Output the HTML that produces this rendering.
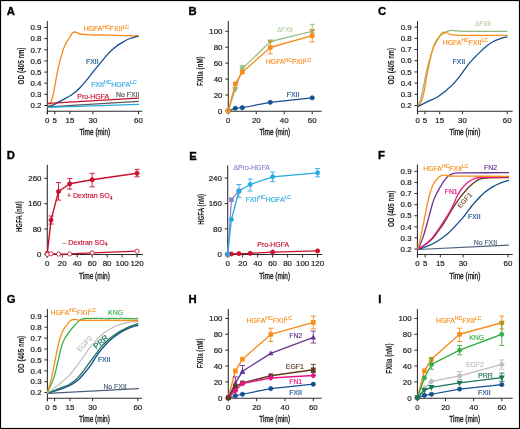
<!DOCTYPE html>
<html><head><meta charset="utf-8"><style>
html,body{margin:0;padding:0;background:#fff;}
body{width:520px;height:429px;overflow:hidden;}
svg{display:block;will-change:transform;font-family:"Liberation Sans", sans-serif;}
</style></head><body>
<svg width="520" height="429" viewBox="0 0 520 429">
<rect x="0" y="0" width="520" height="429" fill="#fff"/>
<rect x="0.5" y="0.5" width="519" height="428" fill="none" stroke="#000" stroke-width="1.2"/>
<text x="6.8" y="15" font-size="11.3" fill="#000" font-weight="bold" stroke="#000" stroke-width="0.35">A</text>
<path d="M47.3,21 V114.2 M47.3,111.2 H142.3" stroke="#2b2b2b" stroke-width="1.05" fill="none"/>
<path d="M44.3,105.5 H47.3 M44.3,94.35 H47.3 M44.3,83.2 H47.3 M44.3,72.05 H47.3 M44.3,60.9 H47.3 M44.3,49.75 H47.3 M44.3,38.6 H47.3 M44.3,27.45 H47.3 M47.3,111.2 V114.2 M54.8,111.2 V114.2 M69.9,111.2 V114.2 M92.9,111.2 V114.2 M138.5,111.2 V114.2 " stroke="#2b2b2b" stroke-width="1" fill="none"/>
<text x="41.5" y="108.25" font-size="7.9" fill="#231f20" text-anchor="end" stroke="#231f20" stroke-width="0.22">0.2</text>
<text x="41.5" y="97.1" font-size="7.9" fill="#231f20" text-anchor="end" stroke="#231f20" stroke-width="0.22">0.3</text>
<text x="41.5" y="85.95" font-size="7.9" fill="#231f20" text-anchor="end" stroke="#231f20" stroke-width="0.22">0.4</text>
<text x="41.5" y="74.8" font-size="7.9" fill="#231f20" text-anchor="end" stroke="#231f20" stroke-width="0.22">0.5</text>
<text x="41.5" y="63.65" font-size="7.9" fill="#231f20" text-anchor="end" stroke="#231f20" stroke-width="0.22">0.6</text>
<text x="41.5" y="52.5" font-size="7.9" fill="#231f20" text-anchor="end" stroke="#231f20" stroke-width="0.22">0.7</text>
<text x="41.5" y="41.35" font-size="7.9" fill="#231f20" text-anchor="end" stroke="#231f20" stroke-width="0.22">0.8</text>
<text x="41.5" y="30.2" font-size="7.9" fill="#231f20" text-anchor="end" stroke="#231f20" stroke-width="0.22">0.9</text>
<text x="47.3" y="122.7" font-size="7.9" fill="#231f20" text-anchor="middle" stroke="#231f20" stroke-width="0.22">0</text>
<text x="54.8" y="122.7" font-size="7.9" fill="#231f20" text-anchor="middle" stroke="#231f20" stroke-width="0.22">5</text>
<text x="69.9" y="122.7" font-size="7.9" fill="#231f20" text-anchor="middle" stroke="#231f20" stroke-width="0.22">15</text>
<text x="92.9" y="122.7" font-size="7.9" fill="#231f20" text-anchor="middle" stroke="#231f20" stroke-width="0.22">30</text>
<text x="138.5" y="122.7" font-size="7.9" fill="#231f20" text-anchor="middle" stroke="#231f20" stroke-width="0.22">60</text>
<text x="20.6" y="69.2" font-size="8.9" fill="#231f20" text-anchor="middle" transform="rotate(-90 20.6 66)" font-weight="bold" stroke="#231f20" stroke-width="0.05" textLength="37" lengthAdjust="spacingAndGlyphs">OD (405 <tspan font-size="8.2">nm</tspan>)</text>
<text x="94.8" y="134.6" font-size="8.8" fill="#231f20" text-anchor="middle" textLength="30.8" lengthAdjust="spacingAndGlyphs" stroke="#231f20" stroke-width="0.38">Time (min)</text>
<path d="M47.9,106.7 C48.43,105.85 50.18,103.8 51.1,101.6 C52.02,99.4 52.65,96.8 53.4,93.5 C54.15,90.2 54.87,85.72 55.6,81.8 C56.33,77.88 56.95,73.93 57.8,70 C58.65,66.07 59.73,61.78 60.7,58.2 C61.67,54.62 62.53,51.32 63.6,48.5 C64.67,45.68 66.02,43.27 67.1,41.3 C68.18,39.33 69.22,38.08 70.1,36.7 C70.98,35.32 71.63,33.78 72.4,33 C73.17,32.22 73.83,32.02 74.7,32 C75.57,31.98 76.72,32.57 77.6,32.9 C78.48,33.23 78.63,33.73 80,34 C81.37,34.27 83.3,34.33 85.8,34.5 C88.3,34.67 90.13,34.87 95,35 C99.87,35.13 107.82,35.13 115,35.3 C122.18,35.47 134.25,35.88 138.1,36" fill="none" stroke="#f98c1a" stroke-width="1.3" stroke-linejoin="round" stroke-linecap="round"/>
<path d="M47.9,106.9 C49.05,106.45 52.67,105.2 54.8,104.2 C56.93,103.2 58.77,101.95 60.7,100.9 C62.63,99.85 64.38,99.05 66.4,97.9 C68.42,96.75 70.67,95.57 72.8,94 C74.93,92.43 77.07,90.6 79.2,88.5 C81.33,86.4 83.45,83.97 85.6,81.4 C87.75,78.83 90.45,75.18 92.1,73.1 C93.75,71.02 94.05,70.65 95.5,68.9 C96.95,67.15 98.93,64.85 100.8,62.6 C102.67,60.35 104.75,57.57 106.7,55.4 C108.65,53.23 110.57,51.35 112.5,49.6 C114.43,47.85 116.37,46.27 118.3,44.9 C120.23,43.53 122.15,42.47 124.1,41.4 C126.05,40.33 127.67,39.38 130,38.5 C132.33,37.62 136.75,36.5 138.1,36.1" fill="none" stroke="#145090" stroke-width="1.3" stroke-linejoin="round" stroke-linecap="round"/>
<path d="M47.8,103.3 L138.5,98.1" fill="none" stroke="#c8102e" stroke-width="1.3" stroke-linejoin="round" stroke-linecap="round"/>
<path d="M47.8,106.9 L138.5,101.3" fill="none" stroke="#5a5a5a" stroke-width="1.2" stroke-linejoin="round" stroke-linecap="round"/>
<path d="M47.8,107.4 L138.5,104.4" fill="none" stroke="#29a9e0" stroke-width="1.4" stroke-linejoin="round" stroke-linecap="round"/>
<text x="83.7" y="31.2" font-size="6.9" fill="#f98c1a" stroke="#f98c1a" stroke-width="0.16"><tspan>HGFA</tspan><tspan font-size="5.11" dy="-2.69">HC</tspan><tspan dy="2.69">FXII</tspan><tspan font-size="5.11" dy="-2.69">LC</tspan></text>
<text x="86" y="64.2" font-size="6.9" fill="#145090" stroke="#145090" stroke-width="0.16">FXII</text>
<text x="91.3" y="86.9" font-size="6.9" fill="#29a9e0" stroke="#29a9e0" stroke-width="0.16"><tspan>FXII</tspan><tspan font-size="5.11" dy="-2.69">HC</tspan><tspan dy="2.69">HGFA</tspan><tspan font-size="5.11" dy="-2.69">LC</tspan></text>
<text x="77.3" y="98.7" font-size="6.9" fill="#c8102e" stroke="#c8102e" stroke-width="0.16">Pro-HGFA</text>
<text x="116" y="96.8" font-size="6.9" fill="#4a4a4a" stroke="#4a4a4a" stroke-width="0.16">No FXII</text>
<text x="188.5" y="15" font-size="11.3" fill="#000" font-weight="bold" stroke="#000" stroke-width="0.35">B</text>
<path d="M228.3,21.1 V114.2 M228.3,111.2 H321.7" stroke="#2b2b2b" stroke-width="1.05" fill="none"/>
<path d="M225.3,110.9 H228.3 M225.3,94.98 H228.3 M225.3,79.06 H228.3 M225.3,63.14 H228.3 M225.3,47.22 H228.3 M225.3,31.3 H228.3 M228.3,111.2 V114.2 M256.27,111.2 V114.2 M284.23,111.2 V114.2 M312.2,111.2 V114.2 " stroke="#2b2b2b" stroke-width="1" fill="none"/>
<text x="222.5" y="113.65" font-size="7.9" fill="#231f20" text-anchor="end" stroke="#231f20" stroke-width="0.22">0</text>
<text x="222.5" y="97.73" font-size="7.9" fill="#231f20" text-anchor="end" stroke="#231f20" stroke-width="0.22">20</text>
<text x="222.5" y="81.81" font-size="7.9" fill="#231f20" text-anchor="end" stroke="#231f20" stroke-width="0.22">40</text>
<text x="222.5" y="65.89" font-size="7.9" fill="#231f20" text-anchor="end" stroke="#231f20" stroke-width="0.22">60</text>
<text x="222.5" y="49.97" font-size="7.9" fill="#231f20" text-anchor="end" stroke="#231f20" stroke-width="0.22">80</text>
<text x="222.5" y="34.05" font-size="7.9" fill="#231f20" text-anchor="end" stroke="#231f20" stroke-width="0.22">100</text>
<text x="228.3" y="122.7" font-size="7.9" fill="#231f20" text-anchor="middle" stroke="#231f20" stroke-width="0.22">0</text>
<text x="256.27" y="122.7" font-size="7.9" fill="#231f20" text-anchor="middle" stroke="#231f20" stroke-width="0.22">20</text>
<text x="284.23" y="122.7" font-size="7.9" fill="#231f20" text-anchor="middle" stroke="#231f20" stroke-width="0.22">40</text>
<text x="312.2" y="122.7" font-size="7.9" fill="#231f20" text-anchor="middle" stroke="#231f20" stroke-width="0.22">60</text>
<text x="199.8" y="74.37" font-size="8.8" fill="#231f20" text-anchor="middle" textLength="29.8" lengthAdjust="spacingAndGlyphs" transform="rotate(-90 199.8 71.2)" font-weight="bold" stroke="#231f20" stroke-width="0.05">FXIIa (nM)</text>
<text x="274.8" y="134.6" font-size="8.8" fill="#231f20" text-anchor="middle" textLength="30.8" lengthAdjust="spacingAndGlyphs" stroke="#231f20" stroke-width="0.38">Time (min)</text>
<path d="M228.3,110.9 L235.29,108.27 L242.28,107.72 L270.25,102.3 L312.2,97.85" fill="none" stroke="#145090" stroke-width="1.2" stroke-linejoin="round" stroke-linecap="round"/>
<circle cx="228.3" cy="110.9" r="2.1" fill="#145090" stroke="#145090" stroke-width="0.8"/>
<circle cx="235.29" cy="108.27" r="2.1" fill="#145090" stroke="#145090" stroke-width="0.8"/>
<circle cx="242.28" cy="107.72" r="2.1" fill="#145090" stroke="#145090" stroke-width="0.8"/>
<circle cx="270.25" cy="102.3" r="2.1" fill="#145090" stroke="#145090" stroke-width="0.8"/>
<circle cx="312.2" cy="97.85" r="2.1" fill="#145090" stroke="#145090" stroke-width="0.8"/>
<path d="M228.3,110.9 L235.29,89.41 L242.28,68.71 L270.25,41.65 L312.2,31.3" fill="none" stroke="#8fb77a" stroke-width="1.1" stroke-linejoin="round" stroke-linecap="round"/>
<path d="M242.28,65.5 V69.8 M239.68,65.5 H244.88 M239.68,69.8 H244.88" stroke="#8fb77a" stroke-width="0.9" fill="none"/>
<path d="M312.2,24.3 V32.9 M309.6,24.3 H314.8 M309.6,32.9 H314.8" stroke="#8fb77a" stroke-width="0.9" fill="none"/>
<path d="M228.3,114.14 L231.3,108.74 L225.3,108.74 Z" fill="#8fb77a"/>
<path d="M235.29,92.65 L238.29,87.25 L232.29,87.25 Z" fill="#8fb77a"/>
<path d="M242.28,71.95 L245.28,66.55 L239.28,66.55 Z" fill="#8fb77a"/>
<path d="M270.25,44.89 L273.25,39.49 L267.25,39.49 Z" fill="#8fb77a"/>
<path d="M312.2,34.54 L315.2,29.14 L309.2,29.14 Z" fill="#8fb77a"/>
<path d="M228.3,110.9 L235.29,83.84 L242.28,72.21 L270.25,47.54 L312.2,35.68" fill="none" stroke="#f98c1a" stroke-width="1.4" stroke-linejoin="round" stroke-linecap="round"/>
<path d="M270.25,41.5 V53.9 M267.65,41.5 H272.85 M267.65,53.9 H272.85" stroke="#f98c1a" stroke-width="0.9" fill="none"/>
<path d="M312.2,29.5 V41.9 M309.6,29.5 H314.8 M309.6,41.9 H314.8" stroke="#f98c1a" stroke-width="0.9" fill="none"/>
<rect x="226" y="108.6" width="4.6" height="4.6" fill="#f98c1a"/>
<rect x="232.99" y="81.54" width="4.6" height="4.6" fill="#f98c1a"/>
<rect x="239.98" y="69.91" width="4.6" height="4.6" fill="#f98c1a"/>
<rect x="267.95" y="45.24" width="4.6" height="4.6" fill="#f98c1a"/>
<rect x="309.9" y="33.38" width="4.6" height="4.6" fill="#f98c1a"/>
<text x="277.2" y="32.3" font-size="6.9" fill="#a3c28f" textLength="15.6" lengthAdjust="spacingAndGlyphs" stroke-width="0" stroke="none">&#916;FXII</text>
<text x="265.8" y="64.4" font-size="6.9" fill="#f98c1a" stroke="#f98c1a" stroke-width="0.16"><tspan>HGFA</tspan><tspan font-size="5.11" dy="-2.69">HC</tspan><tspan dy="2.69">FXII</tspan><tspan font-size="5.11" dy="-2.69">LC</tspan></text>
<text x="286.8" y="97.3" font-size="6.9" fill="#145090" stroke="#145090" stroke-width="0.16">FXII</text>
<text x="378" y="15" font-size="11.3" fill="#000" font-weight="bold" stroke="#000" stroke-width="0.35">C</text>
<path d="M417.5,21 V114.2 M417.5,111.2 H512.7" stroke="#2b2b2b" stroke-width="1.05" fill="none"/>
<path d="M414.5,105.5 H417.5 M414.5,94.31 H417.5 M414.5,83.12 H417.5 M414.5,71.93 H417.5 M414.5,60.74 H417.5 M414.5,49.55 H417.5 M414.5,38.36 H417.5 M414.5,27.17 H417.5 M417.6,111.2 V114.2 M424.9,111.2 V114.2 M439.7,111.2 V114.2 M462.5,111.2 V114.2 M507.2,111.2 V114.2 " stroke="#2b2b2b" stroke-width="1" fill="none"/>
<text x="411.7" y="108.25" font-size="7.9" fill="#231f20" text-anchor="end" stroke="#231f20" stroke-width="0.22">0.2</text>
<text x="411.7" y="97.06" font-size="7.9" fill="#231f20" text-anchor="end" stroke="#231f20" stroke-width="0.22">0.3</text>
<text x="411.7" y="85.87" font-size="7.9" fill="#231f20" text-anchor="end" stroke="#231f20" stroke-width="0.22">0.4</text>
<text x="411.7" y="74.68" font-size="7.9" fill="#231f20" text-anchor="end" stroke="#231f20" stroke-width="0.22">0.5</text>
<text x="411.7" y="63.49" font-size="7.9" fill="#231f20" text-anchor="end" stroke="#231f20" stroke-width="0.22">0.6</text>
<text x="411.7" y="52.3" font-size="7.9" fill="#231f20" text-anchor="end" stroke="#231f20" stroke-width="0.22">0.7</text>
<text x="411.7" y="41.11" font-size="7.9" fill="#231f20" text-anchor="end" stroke="#231f20" stroke-width="0.22">0.8</text>
<text x="411.7" y="29.92" font-size="7.9" fill="#231f20" text-anchor="end" stroke="#231f20" stroke-width="0.22">0.9</text>
<text x="417.6" y="122.7" font-size="7.9" fill="#231f20" text-anchor="middle" stroke="#231f20" stroke-width="0.22">0</text>
<text x="424.9" y="122.7" font-size="7.9" fill="#231f20" text-anchor="middle" stroke="#231f20" stroke-width="0.22">5</text>
<text x="439.7" y="122.7" font-size="7.9" fill="#231f20" text-anchor="middle" stroke="#231f20" stroke-width="0.22">15</text>
<text x="462.5" y="122.7" font-size="7.9" fill="#231f20" text-anchor="middle" stroke="#231f20" stroke-width="0.22">30</text>
<text x="507.2" y="122.7" font-size="7.9" fill="#231f20" text-anchor="middle" stroke="#231f20" stroke-width="0.22">60</text>
<text x="390.9" y="69.4" font-size="8.9" fill="#231f20" text-anchor="middle" transform="rotate(-90 390.9 66.2)" font-weight="bold" stroke="#231f20" stroke-width="0.05" textLength="36.8" lengthAdjust="spacingAndGlyphs">OD (405 <tspan font-size="8.2">nm</tspan>)</text>
<text x="464.9" y="134.6" font-size="8.8" fill="#231f20" text-anchor="middle" textLength="30.8" lengthAdjust="spacingAndGlyphs" stroke="#231f20" stroke-width="0.38">Time (min)</text>
<path d="M418.1,105.6 C418.45,104.77 419.5,102.82 420.2,100.6 C420.9,98.38 421.6,95.43 422.3,92.3 C423,89.17 423.7,85.3 424.4,81.8 C425.1,78.3 425.87,74.18 426.5,71.3 C427.13,68.42 427.42,67.37 428.2,64.5 C428.98,61.63 430.13,57.58 431.2,54.1 C432.27,50.62 433.25,46.5 434.6,43.6 C435.95,40.7 437.73,38.4 439.3,36.7 C440.87,35 442.63,34.28 444,33.4 C445.37,32.52 446.15,31.9 447.5,31.4 C448.85,30.9 450.55,30.5 452.1,30.4 C453.65,30.3 454.48,30.65 456.8,30.8 C459.12,30.95 457.62,31.22 466,31.3 C474.38,31.38 500.25,31.3 507.1,31.3" fill="none" stroke="#8fb77a" stroke-width="1.2" stroke-linejoin="round" stroke-linecap="round"/>
<path d="M418.1,105.9 C418.62,105.2 420.33,103.45 421.2,101.7 C422.07,99.95 422.6,98.37 423.3,95.4 C424,92.43 424.7,87.75 425.4,83.9 C426.1,80.05 426.92,75.37 427.5,72.3 C428.08,69.23 428.28,68.33 428.9,65.5 C429.52,62.67 430.43,58.37 431.2,55.3 C431.97,52.23 432.53,49.52 433.5,47.1 C434.47,44.68 436.03,42.53 437,40.8 C437.97,39.07 438.53,37.93 439.3,36.7 C440.07,35.47 440.82,34.15 441.6,33.4 C442.38,32.65 443.02,32.23 444,32.2 C444.98,32.17 446.33,32.8 447.5,33.2 C448.67,33.6 449.45,34.27 451,34.6 C452.55,34.93 454.3,35.07 456.8,35.2 C459.3,35.33 457.62,35.38 466,35.4 C474.38,35.42 500.25,35.32 507.1,35.3" fill="none" stroke="#f98c1a" stroke-width="1.3" stroke-linejoin="round" stroke-linecap="round"/>
<path d="M418.1,106.4 C419.5,105.7 423.35,103.73 426.5,102.2 C429.65,100.67 434.38,98.65 437,97.2 C439.62,95.75 440.47,94.8 442.2,93.5 C443.93,92.2 445.65,90.88 447.4,89.4 C449.15,87.92 450.95,86.4 452.7,84.6 C454.45,82.8 456.25,80.63 457.9,78.6 C459.55,76.57 460.88,74.73 462.6,72.4 C464.32,70.07 466.25,67.03 468.2,64.6 C470.15,62.17 472.25,59.97 474.3,57.8 C476.35,55.63 478.43,53.55 480.5,51.6 C482.57,49.65 484.63,47.73 486.7,46.1 C488.77,44.47 490.85,42.97 492.9,41.8 C494.95,40.63 496.63,39.93 499,39.1 C501.37,38.27 505.75,37.18 507.1,36.8" fill="none" stroke="#145090" stroke-width="1.3" stroke-linejoin="round" stroke-linecap="round"/>
<text x="475.2" y="26.3" font-size="6.9" fill="#a3c28f" textLength="15.6" lengthAdjust="spacingAndGlyphs" stroke-width="0" stroke="none">&#916;FXII</text>
<text x="442.7" y="44.8" font-size="6.9" fill="#f98c1a" stroke="#f98c1a" stroke-width="0.16"><tspan>HGFA</tspan><tspan font-size="5.11" dy="-2.69">HC</tspan><tspan dy="2.69">FXII</tspan><tspan font-size="5.11" dy="-2.69">LC</tspan></text>
<text x="452.6" y="64.2" font-size="6.9" fill="#145090" stroke="#145090" stroke-width="0.16">FXII</text>
<text x="6.8" y="159.2" font-size="11.3" fill="#000" font-weight="bold" stroke="#000" stroke-width="0.35">D</text>
<path d="M47.3,164.7 V257.5 M47.3,254.5 H143" stroke="#2b2b2b" stroke-width="1.05" fill="none"/>
<path d="M44.3,254.4 H47.3 M44.3,229 H47.3 M44.3,203.7 H47.3 M44.3,178.3 H47.3 M47.3,254.5 V257.5 M62.26,254.5 V257.5 M77.22,254.5 V257.5 M92.18,254.5 V257.5 M107.14,254.5 V257.5 M122.1,254.5 V257.5 M137.06,254.5 V257.5 " stroke="#2b2b2b" stroke-width="1" fill="none"/>
<text x="41.5" y="257.15" font-size="7.9" fill="#231f20" text-anchor="end" stroke="#231f20" stroke-width="0.22">0</text>
<text x="41.5" y="231.75" font-size="7.9" fill="#231f20" text-anchor="end" stroke="#231f20" stroke-width="0.22">80</text>
<text x="41.5" y="206.45" font-size="7.9" fill="#231f20" text-anchor="end" stroke="#231f20" stroke-width="0.22">160</text>
<text x="41.5" y="181.05" font-size="7.9" fill="#231f20" text-anchor="end" stroke="#231f20" stroke-width="0.22">260</text>
<text x="47.3" y="266" font-size="7.9" fill="#231f20" text-anchor="middle" stroke="#231f20" stroke-width="0.22">0</text>
<text x="62.26" y="266" font-size="7.9" fill="#231f20" text-anchor="middle" stroke="#231f20" stroke-width="0.22">20</text>
<text x="77.22" y="266" font-size="7.9" fill="#231f20" text-anchor="middle" stroke="#231f20" stroke-width="0.22">40</text>
<text x="92.18" y="266" font-size="7.9" fill="#231f20" text-anchor="middle" stroke="#231f20" stroke-width="0.22">60</text>
<text x="107.14" y="266" font-size="7.9" fill="#231f20" text-anchor="middle" stroke="#231f20" stroke-width="0.22">80</text>
<text x="122.1" y="266" font-size="7.9" fill="#231f20" text-anchor="middle" stroke="#231f20" stroke-width="0.22">100</text>
<text x="137.06" y="266" font-size="7.9" fill="#231f20" text-anchor="middle" stroke="#231f20" stroke-width="0.22">120</text>
<text x="18.5" y="219.87" font-size="8.8" fill="#231f20" text-anchor="middle" textLength="30.8" lengthAdjust="spacingAndGlyphs" transform="rotate(-90 18.5 216.7)" font-weight="bold" stroke="#231f20" stroke-width="0.05">HGFA (nM)</text>
<text x="94.5" y="278.6" font-size="8.8" fill="#231f20" text-anchor="middle" textLength="30.8" lengthAdjust="spacingAndGlyphs" stroke="#231f20" stroke-width="0.38">Time (min)</text>
<path d="M47.3,253.45 L51.04,220.1 L58.52,191.5 L69.74,183.8 L92.18,179.8 L137.06,173.3" fill="none" stroke="#c8102e" stroke-width="1.4" stroke-linejoin="round" stroke-linecap="round"/>
<path d="M51.04,216 V224 M48.44,216 H53.64 M48.44,224 H53.64" stroke="#c8102e" stroke-width="0.9" fill="none"/>
<path d="M58.52,182.6 V200.1 M55.92,182.6 H61.12 M55.92,200.1 H61.12" stroke="#c8102e" stroke-width="0.9" fill="none"/>
<path d="M69.74,178.6 V189.1 M67.14,178.6 H72.34 M67.14,189.1 H72.34" stroke="#c8102e" stroke-width="0.9" fill="none"/>
<path d="M92.18,173.3 V186.8 M89.58,173.3 H94.78 M89.58,186.8 H94.78" stroke="#c8102e" stroke-width="0.9" fill="none"/>
<path d="M137.06,169.3 V176.8 M134.46,169.3 H139.66 M134.46,176.8 H139.66" stroke="#c8102e" stroke-width="0.9" fill="none"/>
<circle cx="47.3" cy="253.45" r="2.1" fill="#c8102e" stroke="#c8102e" stroke-width="0.8"/>
<circle cx="51.04" cy="220.1" r="2.1" fill="#c8102e" stroke="#c8102e" stroke-width="0.8"/>
<circle cx="58.52" cy="191.5" r="2.1" fill="#c8102e" stroke="#c8102e" stroke-width="0.8"/>
<circle cx="69.74" cy="183.8" r="2.1" fill="#c8102e" stroke="#c8102e" stroke-width="0.8"/>
<circle cx="92.18" cy="179.8" r="2.1" fill="#c8102e" stroke="#c8102e" stroke-width="0.8"/>
<circle cx="137.06" cy="173.3" r="2.1" fill="#c8102e" stroke="#c8102e" stroke-width="0.8"/>
<path d="M47.3,254.4 L51.04,253.77 L58.52,254.08 L69.74,253.92 L92.18,252.81 L137.06,251.22" fill="none" stroke="#c8102e" stroke-width="1.3" stroke-linejoin="round" stroke-linecap="round"/>
<circle cx="47.3" cy="254.4" r="2.1" fill="#fff" stroke="#c8102e" stroke-width="0.8"/>
<circle cx="51.04" cy="253.77" r="2.1" fill="#fff" stroke="#c8102e" stroke-width="0.8"/>
<circle cx="58.52" cy="254.08" r="2.1" fill="#fff" stroke="#c8102e" stroke-width="0.8"/>
<circle cx="69.74" cy="253.92" r="2.1" fill="#fff" stroke="#c8102e" stroke-width="0.8"/>
<circle cx="92.18" cy="252.81" r="2.1" fill="#fff" stroke="#c8102e" stroke-width="0.8"/>
<circle cx="137.06" cy="251.22" r="2.1" fill="#fff" stroke="#c8102e" stroke-width="0.8"/>
<text x="67" y="197.9" font-size="7.3" fill="#c8102e" stroke="#c8102e" stroke-width="0.16" textLength="45.6" lengthAdjust="spacingAndGlyphs">+ Dextran SO<tspan font-size="5.4" dy="1.9">4</tspan></text>
<text x="62.4" y="244.5" font-size="7.3" fill="#c8102e" stroke="#c8102e" stroke-width="0.16" textLength="45.2" lengthAdjust="spacingAndGlyphs">&#8211; Dextran SO<tspan font-size="5.4" dy="1.9">4</tspan></text>
<text x="189.3" y="159.6" font-size="11.3" fill="#000" font-weight="bold" stroke="#000" stroke-width="0.35">E</text>
<path d="M227.7,165.4 V257.5 M227.7,254.5 H322.3" stroke="#2b2b2b" stroke-width="1.05" fill="none"/>
<path d="M224.7,254.3 H227.7 M224.7,228.9 H227.7 M224.7,203.5 H227.7 M224.7,178.1 H227.7 M227.7,254.5 V257.5 M242.68,254.5 V257.5 M257.66,254.5 V257.5 M272.64,254.5 V257.5 M287.62,254.5 V257.5 M302.6,254.5 V257.5 M317.58,254.5 V257.5 " stroke="#2b2b2b" stroke-width="1" fill="none"/>
<text x="221.9" y="257.05" font-size="7.9" fill="#231f20" text-anchor="end" stroke="#231f20" stroke-width="0.22">0</text>
<text x="221.9" y="231.65" font-size="7.9" fill="#231f20" text-anchor="end" stroke="#231f20" stroke-width="0.22">80</text>
<text x="221.9" y="206.25" font-size="7.9" fill="#231f20" text-anchor="end" stroke="#231f20" stroke-width="0.22">160</text>
<text x="221.9" y="180.85" font-size="7.9" fill="#231f20" text-anchor="end" stroke="#231f20" stroke-width="0.22">240</text>
<text x="227.7" y="266" font-size="7.9" fill="#231f20" text-anchor="middle" stroke="#231f20" stroke-width="0.22">0</text>
<text x="242.68" y="266" font-size="7.9" fill="#231f20" text-anchor="middle" stroke="#231f20" stroke-width="0.22">20</text>
<text x="257.66" y="266" font-size="7.9" fill="#231f20" text-anchor="middle" stroke="#231f20" stroke-width="0.22">40</text>
<text x="272.64" y="266" font-size="7.9" fill="#231f20" text-anchor="middle" stroke="#231f20" stroke-width="0.22">60</text>
<text x="287.62" y="266" font-size="7.9" fill="#231f20" text-anchor="middle" stroke="#231f20" stroke-width="0.22">80</text>
<text x="302.6" y="266" font-size="7.9" fill="#231f20" text-anchor="middle" stroke="#231f20" stroke-width="0.22">100</text>
<text x="317.58" y="266" font-size="7.9" fill="#231f20" text-anchor="middle" stroke="#231f20" stroke-width="0.22">120</text>
<text x="200.4" y="212.47" font-size="8.8" fill="#231f20" text-anchor="middle" textLength="30.8" lengthAdjust="spacingAndGlyphs" transform="rotate(-90 200.4 209.3)" font-weight="bold" stroke="#231f20" stroke-width="0.05">HGFA (nM)</text>
<text x="274.7" y="278.6" font-size="8.8" fill="#231f20" text-anchor="middle" textLength="30.8" lengthAdjust="spacingAndGlyphs" stroke="#231f20" stroke-width="0.38">Time (min)</text>
<path d="M227.7,254.3 L231.44,199.7 L238.94,191" fill="none" stroke="#8d7fc4" stroke-width="1.2" stroke-linejoin="round" stroke-linecap="round"/>
<rect x="225.4" y="252" width="4.6" height="4.6" fill="#8d7fc4"/>
<rect x="229.14" y="197.4" width="4.6" height="4.6" fill="#8d7fc4"/>
<rect x="236.63" y="188.7" width="4.6" height="4.6" fill="#8d7fc4"/>
<path d="M227.7,254.3 L231.44,253.98 L238.94,253.67 L250.17,253.35 L272.64,252.08 L317.58,250.97" fill="none" stroke="#c8102e" stroke-width="1.3" stroke-linejoin="round" stroke-linecap="round"/>
<circle cx="227.7" cy="254.3" r="2.1" fill="#c8102e" stroke="#c8102e" stroke-width="0.8"/>
<circle cx="231.44" cy="253.98" r="2.1" fill="#c8102e" stroke="#c8102e" stroke-width="0.8"/>
<circle cx="238.94" cy="253.67" r="2.1" fill="#c8102e" stroke="#c8102e" stroke-width="0.8"/>
<circle cx="250.17" cy="253.35" r="2.1" fill="#c8102e" stroke="#c8102e" stroke-width="0.8"/>
<circle cx="272.64" cy="252.08" r="2.1" fill="#c8102e" stroke="#c8102e" stroke-width="0.8"/>
<circle cx="317.58" cy="250.97" r="2.1" fill="#c8102e" stroke="#c8102e" stroke-width="0.8"/>
<path d="M227.7,254.3 L231.44,219.5 L238.94,191 L250.17,184.5 L272.64,176.8 L317.58,172.8" fill="none" stroke="#29a9e0" stroke-width="1.3" stroke-linejoin="round" stroke-linecap="round"/>
<path d="M238.94,184.5 V197.3 M236.34,184.5 H241.53 M236.34,197.3 H241.53" stroke="#29a9e0" stroke-width="0.9" fill="none"/>
<path d="M250.17,179.1 V191 M247.57,179.1 H252.77 M247.57,191 H252.77" stroke="#29a9e0" stroke-width="0.9" fill="none"/>
<path d="M272.64,172.1 V181.7 M270.04,172.1 H275.24 M270.04,181.7 H275.24" stroke="#29a9e0" stroke-width="0.9" fill="none"/>
<path d="M317.58,168.6 V176.8 M314.98,168.6 H320.18 M314.98,176.8 H320.18" stroke="#29a9e0" stroke-width="0.9" fill="none"/>
<circle cx="227.7" cy="254.3" r="2.1" fill="#29a9e0" stroke="#29a9e0" stroke-width="0.8"/>
<circle cx="231.44" cy="219.5" r="2.1" fill="#29a9e0" stroke="#29a9e0" stroke-width="0.8"/>
<circle cx="238.94" cy="191" r="2.1" fill="#29a9e0" stroke="#29a9e0" stroke-width="0.8"/>
<circle cx="250.17" cy="184.5" r="2.1" fill="#29a9e0" stroke="#29a9e0" stroke-width="0.8"/>
<circle cx="272.64" cy="176.8" r="2.1" fill="#29a9e0" stroke="#29a9e0" stroke-width="0.8"/>
<circle cx="317.58" cy="172.8" r="2.1" fill="#29a9e0" stroke="#29a9e0" stroke-width="0.8"/>
<text x="233.5" y="169.9" font-size="6.9" fill="#8b82c6" stroke="#8b82c6" stroke-width="0.16">&#916;Pro-HGFA</text>
<text x="245.7" y="201.5" font-size="6.9" fill="#29a9e0" stroke="#29a9e0" stroke-width="0.16"><tspan>FXII</tspan><tspan font-size="5.11" dy="-2.69">HC</tspan><tspan dy="2.69">HGFA</tspan><tspan font-size="5.11" dy="-2.69">LC</tspan></text>
<text x="257.3" y="247" font-size="6.9" fill="#c8102e" stroke="#c8102e" stroke-width="0.16">Pro-HGFA</text>
<text x="378" y="159.3" font-size="11.3" fill="#000" font-weight="bold" stroke="#000" stroke-width="0.35">F</text>
<path d="M417.4,164.6 V257.4 M417.4,254.4 H512.7" stroke="#2b2b2b" stroke-width="1.05" fill="none"/>
<path d="M414.4,249 H417.4 M414.4,237.91 H417.4 M414.4,226.82 H417.4 M414.4,215.73 H417.4 M414.4,204.64 H417.4 M414.4,193.55 H417.4 M414.4,182.46 H417.4 M414.4,171.37 H417.4 M417.5,254.4 V257.4 M425.2,254.4 V257.4 M440.3,254.4 V257.4 M463.1,254.4 V257.4 M508,254.4 V257.4 " stroke="#2b2b2b" stroke-width="1" fill="none"/>
<text x="411.6" y="251.75" font-size="7.9" fill="#231f20" text-anchor="end" stroke="#231f20" stroke-width="0.22">0.2</text>
<text x="411.6" y="240.66" font-size="7.9" fill="#231f20" text-anchor="end" stroke="#231f20" stroke-width="0.22">0.3</text>
<text x="411.6" y="229.57" font-size="7.9" fill="#231f20" text-anchor="end" stroke="#231f20" stroke-width="0.22">0.4</text>
<text x="411.6" y="218.48" font-size="7.9" fill="#231f20" text-anchor="end" stroke="#231f20" stroke-width="0.22">0.5</text>
<text x="411.6" y="207.39" font-size="7.9" fill="#231f20" text-anchor="end" stroke="#231f20" stroke-width="0.22">0.6</text>
<text x="411.6" y="196.3" font-size="7.9" fill="#231f20" text-anchor="end" stroke="#231f20" stroke-width="0.22">0.7</text>
<text x="411.6" y="185.21" font-size="7.9" fill="#231f20" text-anchor="end" stroke="#231f20" stroke-width="0.22">0.8</text>
<text x="411.6" y="174.12" font-size="7.9" fill="#231f20" text-anchor="end" stroke="#231f20" stroke-width="0.22">0.9</text>
<text x="417.5" y="265.9" font-size="7.9" fill="#231f20" text-anchor="middle" stroke="#231f20" stroke-width="0.22">0</text>
<text x="425.2" y="265.9" font-size="7.9" fill="#231f20" text-anchor="middle" stroke="#231f20" stroke-width="0.22">5</text>
<text x="440.3" y="265.9" font-size="7.9" fill="#231f20" text-anchor="middle" stroke="#231f20" stroke-width="0.22">15</text>
<text x="463.1" y="265.9" font-size="7.9" fill="#231f20" text-anchor="middle" stroke="#231f20" stroke-width="0.22">30</text>
<text x="508" y="265.9" font-size="7.9" fill="#231f20" text-anchor="middle" stroke="#231f20" stroke-width="0.22">60</text>
<text x="390.8" y="212" font-size="8.9" fill="#231f20" text-anchor="middle" transform="rotate(-90 390.8 208.8)" font-weight="bold" stroke="#231f20" stroke-width="0.05" textLength="36.6" lengthAdjust="spacingAndGlyphs">OD (405 <tspan font-size="8.2">nm</tspan>)</text>
<text x="464.9" y="278.6" font-size="8.8" fill="#231f20" text-anchor="middle" textLength="30.8" lengthAdjust="spacingAndGlyphs" stroke="#231f20" stroke-width="0.38">Time (min)</text>
<path d="M418,249.5 L508.5,245.1" fill="none" stroke="#4b5e7a" stroke-width="1.2" stroke-linejoin="round" stroke-linecap="round"/>
<path d="M418,249.6 C419.68,248.98 424.8,247.33 428.1,245.9 C431.4,244.47 434.55,243.02 437.8,241 C441.05,238.98 444.57,236.43 447.6,233.8 C450.63,231.17 453.38,227.97 456,225.2 C458.62,222.43 461.27,219.63 463.3,217.2 C465.33,214.77 466.03,213.33 468.2,210.6 C470.37,207.87 473.58,203.8 476.3,200.8 C479.02,197.8 481.78,194.92 484.5,192.6 C487.22,190.28 489.88,188.53 492.6,186.9 C495.32,185.27 498.15,183.88 500.8,182.8 C503.45,181.72 507.22,180.8 508.5,180.4" fill="none" stroke="#145090" stroke-width="1.3" stroke-linejoin="round" stroke-linecap="round"/>
<path d="M418,249 C419.28,248.22 423.4,245.9 425.7,244.3 C428,242.7 429.78,241.52 431.8,239.4 C433.82,237.28 435.78,234.32 437.8,231.6 C439.82,228.88 441.87,226.25 443.9,223.1 C445.93,219.95 448.13,215.78 450,212.7 C451.87,209.62 453.43,207.12 455.1,204.6 C456.77,202.08 458.18,200 460,197.6 C461.82,195.2 464.28,192.17 466,190.2 C467.72,188.23 468.85,187.13 470.3,185.8 C471.75,184.47 472.62,183.45 474.7,182.2 C476.78,180.95 477.17,179.07 482.8,178.3 C488.43,177.53 504.22,177.72 508.5,177.6" fill="none" stroke="#5e3a1b" stroke-width="1.3" stroke-linejoin="round" stroke-linecap="round"/>
<path d="M418,249 C419.28,248.15 423.4,245.67 425.7,243.9 C428,242.13 429.78,240.65 431.8,238.4 C433.82,236.15 435.78,233.27 437.8,230.4 C439.82,227.53 441.87,224.38 443.9,221.2 C445.93,218.02 448.28,214.33 450,211.3 C451.72,208.27 453.07,205.42 454.2,203 C455.33,200.58 455.58,199.13 456.8,196.8 C458.02,194.47 459.97,191.15 461.5,189 C463.03,186.85 464.35,185.4 466,183.9 C467.65,182.4 469.13,181.07 471.4,180 C473.67,178.93 473.42,177.98 479.6,177.5 C485.78,177.02 503.68,177.17 508.5,177.1" fill="none" stroke="#e6168a" stroke-width="1.3" stroke-linejoin="round" stroke-linecap="round"/>
<path d="M418,249 C418.27,248.52 418.72,248.2 419.6,246.1 C420.48,244 422.08,240.03 423.3,236.4 C424.52,232.77 425.68,228.62 426.9,224.3 C428.12,219.98 429.58,214.22 430.6,210.5 C431.62,206.78 432.13,204.53 433,202 C433.87,199.47 434.63,197.75 435.8,195.3 C436.97,192.85 438.47,189.92 440,187.3 C441.53,184.68 443.4,181.65 445,179.6 C446.6,177.55 447.92,176.08 449.6,175 C451.28,173.92 452.37,173.47 455.1,173.1 C457.83,172.73 457.1,172.87 466,172.8 C474.9,172.73 501.42,172.72 508.5,172.7" fill="none" stroke="#6a3590" stroke-width="1.3" stroke-linejoin="round" stroke-linecap="round"/>
<path d="M418,249 C418.68,245.88 420.82,236.45 422.1,230.3 C423.38,224.15 424.83,216.48 425.7,212.1 C426.57,207.72 426.63,206.97 427.3,204 C427.97,201.03 428.82,197.33 429.7,194.3 C430.58,191.27 431.62,188.08 432.6,185.8 C433.58,183.52 434.53,182.08 435.6,180.6 C436.67,179.12 437.95,177.78 439,176.9 C440.05,176.02 440.83,175.58 441.9,175.3 C442.97,175.02 444.17,175.08 445.4,175.2 C446.63,175.32 445.87,175.83 449.3,176 C452.73,176.17 456.13,176.15 466,176.2 C475.87,176.25 501.42,176.28 508.5,176.3" fill="none" stroke="#f98c1a" stroke-width="1.3" stroke-linejoin="round" stroke-linecap="round"/>
<text x="423.2" y="170.5" font-size="6.9" fill="#f98c1a" stroke="#f98c1a" stroke-width="0.16"><tspan>HGFA</tspan><tspan font-size="5.11" dy="-2.69">HC</tspan><tspan dy="2.69">FXII</tspan><tspan font-size="5.11" dy="-2.69">LC</tspan></text>
<text x="484" y="170.3" font-size="6.9" fill="#6a3590" stroke="#6a3590" stroke-width="0.16">FN2</text>
<text x="444.7" y="193.8" font-size="6.9" fill="#e6168a" stroke="#e6168a" stroke-width="0.16">FN1</text>
<text x="465" y="202.4" font-size="6.9" fill="#7a5a3c" stroke="#7a5a3c" stroke-width="0.16" text-anchor="middle" transform="rotate(-48 465 200.4)">EGF1</text>
<text x="468" y="218.9" font-size="6.9" fill="#145090" stroke="#145090" stroke-width="0.16">FXII</text>
<text x="473.7" y="245.1" font-size="6.9" fill="#4b5e7a" stroke="#4b5e7a" stroke-width="0.16">No FXII</text>
<text x="6.8" y="302.7" font-size="11.3" fill="#000" font-weight="bold" stroke="#000" stroke-width="0.35">G</text>
<path d="M47.4,309.1 V401.2 M47.4,398.2 H142" stroke="#2b2b2b" stroke-width="1.05" fill="none"/>
<path d="M44.4,392.6 H47.4 M44.4,381.71 H47.4 M44.4,370.82 H47.4 M44.4,359.93 H47.4 M44.4,349.04 H47.4 M44.4,338.15 H47.4 M44.4,327.26 H47.4 M44.4,316.37 H47.4 M47.4,398.2 V401.2 M54.6,398.2 V401.2 M70,398.2 V401.2 M92.6,398.2 V401.2 M137.8,398.2 V401.2 " stroke="#2b2b2b" stroke-width="1" fill="none"/>
<text x="41.6" y="395.35" font-size="7.9" fill="#231f20" text-anchor="end" stroke="#231f20" stroke-width="0.22">0.2</text>
<text x="41.6" y="384.46" font-size="7.9" fill="#231f20" text-anchor="end" stroke="#231f20" stroke-width="0.22">0.3</text>
<text x="41.6" y="373.57" font-size="7.9" fill="#231f20" text-anchor="end" stroke="#231f20" stroke-width="0.22">0.4</text>
<text x="41.6" y="362.68" font-size="7.9" fill="#231f20" text-anchor="end" stroke="#231f20" stroke-width="0.22">0.5</text>
<text x="41.6" y="351.79" font-size="7.9" fill="#231f20" text-anchor="end" stroke="#231f20" stroke-width="0.22">0.6</text>
<text x="41.6" y="340.9" font-size="7.9" fill="#231f20" text-anchor="end" stroke="#231f20" stroke-width="0.22">0.7</text>
<text x="41.6" y="330.01" font-size="7.9" fill="#231f20" text-anchor="end" stroke="#231f20" stroke-width="0.22">0.8</text>
<text x="41.6" y="319.12" font-size="7.9" fill="#231f20" text-anchor="end" stroke="#231f20" stroke-width="0.22">0.9</text>
<text x="47.4" y="409.7" font-size="7.9" fill="#231f20" text-anchor="middle" stroke="#231f20" stroke-width="0.22">0</text>
<text x="54.6" y="409.7" font-size="7.9" fill="#231f20" text-anchor="middle" stroke="#231f20" stroke-width="0.22">5</text>
<text x="70" y="409.7" font-size="7.9" fill="#231f20" text-anchor="middle" stroke="#231f20" stroke-width="0.22">15</text>
<text x="92.6" y="409.7" font-size="7.9" fill="#231f20" text-anchor="middle" stroke="#231f20" stroke-width="0.22">30</text>
<text x="137.8" y="409.7" font-size="7.9" fill="#231f20" text-anchor="middle" stroke="#231f20" stroke-width="0.22">60</text>
<text x="21.2" y="357.6" font-size="8.9" fill="#231f20" text-anchor="middle" transform="rotate(-90 21.2 354.4)" font-weight="bold" stroke="#231f20" stroke-width="0.05" textLength="37" lengthAdjust="spacingAndGlyphs">OD (405 <tspan font-size="8.2">nm</tspan>)</text>
<text x="94.5" y="422.3" font-size="8.8" fill="#231f20" text-anchor="middle" textLength="30.8" lengthAdjust="spacingAndGlyphs" stroke="#231f20" stroke-width="0.38">Time (min)</text>
<path d="M47.5,393.4 L138.4,388.6" fill="none" stroke="#4b5e7a" stroke-width="1.2" stroke-linejoin="round" stroke-linecap="round"/>
<path d="M47.5,393.3 C49.43,392.69 55.43,390.92 59.1,389.63 C62.77,388.34 66.47,387.03 69.5,385.56 C72.53,384.09 74.68,383.01 77.3,380.8 C79.92,378.59 82.83,375.08 85.2,372.3 C87.57,369.52 89.73,366.63 91.5,364.1 C93.27,361.57 94.1,359.6 95.8,357.1 C97.5,354.6 99.75,351.5 101.7,349.1 C103.65,346.7 105.57,344.63 107.5,342.7 C109.43,340.77 111.37,339.05 113.3,337.5 C115.23,335.95 117.15,334.67 119.1,333.4 C121.05,332.13 123.05,330.91 125,329.9 C126.95,328.89 128.67,328.11 130.8,327.33 C132.93,326.55 136.63,325.56 137.8,325.21" fill="none" stroke="#145090" stroke-width="1.4" stroke-linejoin="round" stroke-linecap="round"/>
<path d="M47.5,393 C49.43,392.27 55.43,390.09 59.1,388.63 C62.77,387.17 66.68,385.78 69.5,384.26 C72.32,382.74 73.6,381.83 76,379.5 C78.4,377.17 81.5,373.32 83.9,370.3 C86.3,367.28 88.42,364.08 90.4,361.4 C92.38,358.72 93.92,356.73 95.8,354.2 C97.68,351.67 99.75,348.5 101.7,346.2 C103.65,343.9 105.57,342.15 107.5,340.4 C109.43,338.65 111.37,337.15 113.3,335.7 C115.23,334.25 117.15,332.85 119.1,331.7 C121.05,330.55 123.05,329.73 125,328.8 C126.95,327.87 128.67,326.98 130.8,326.13 C132.93,325.28 136.63,324.11 137.8,323.71" fill="none" stroke="#1d7657" stroke-width="1.3" stroke-linejoin="round" stroke-linecap="round"/>
<path d="M47.5,393 C49.43,391.57 55.43,387.37 59.1,384.4 C62.77,381.43 66.25,378.68 69.5,375.2 C72.75,371.72 75.77,367.32 78.6,363.5 C81.43,359.68 84.52,355.08 86.5,352.3 C88.48,349.52 88.95,348.75 90.5,346.8 C92.05,344.85 93.93,342.62 95.8,340.6 C97.67,338.58 99.75,336.37 101.7,334.7 C103.65,333.03 105.57,331.85 107.5,330.6 C109.43,329.35 111.37,328.17 113.3,327.2 C115.23,326.23 117.15,325.48 119.1,324.8 C121.05,324.12 123.05,323.58 125,323.1 C126.95,322.62 128.67,322.15 130.8,321.9 C132.93,321.65 136.63,321.65 137.8,321.6" fill="none" stroke="#bdbdbd" stroke-width="1.2" stroke-linejoin="round" stroke-linecap="round"/>
<path d="M47.5,392.4 C48.55,389.98 52.1,382.88 53.8,377.9 C55.5,372.92 56.47,367.57 57.7,362.5 C58.93,357.43 60.05,351.45 61.2,347.5 C62.35,343.55 63.25,341.42 64.6,338.8 C65.95,336.18 67.73,333.93 69.3,331.8 C70.87,329.67 72.45,327.75 74,326 C75.55,324.25 77.25,322.43 78.6,321.3 C79.95,320.17 80.73,319.68 82.1,319.2 C83.47,318.72 86.02,318.53 86.8,318.4" fill="none" stroke="#3aae4a" stroke-width="1.3" stroke-linejoin="round" stroke-linecap="round"/>
<path d="M86.8,318.4 L87.8,318.44 L88.8,318.29 L89.8,318.74 L90.8,318.22 L91.8,318.63 L92.8,318.48 L93.8,318.2 L94.8,318.61 L95.8,318.18 L96.8,318.54 L97.8,318.21 L98.8,318.23 L99.8,318.53 L100.8,318.89 L101.8,318.26 L102.8,318.35 L103.8,318.71 L104.8,319 L105.8,318.67 L106.8,318.51 L107.8,319.03 L108.8,318.19 L109.8,318.92 L110.8,318.41 L111.8,318.28 L112.8,318.26 L113.8,318.43 L114.8,318.88 L115.8,318.31 L116.8,318.67 L117.8,318.73 L118.8,318.49 L119.8,318.64 L120.8,318.21 L121.8,318.2 L122.8,318.34 L123.8,318.76 L124.8,318.53 L125.8,318.43 L126.8,318.68 L127.8,318.56 L128.8,318.42 L129.8,318.86 L130.8,318.78 L131.8,318.37 L132.8,318.67 L133.8,318.62 L134.8,318.94 L135.8,318.81 L136.8,318.41 L137.8,319.03" fill="none" stroke="#3aae4a" stroke-width="1.2" stroke-linejoin="round" stroke-linecap="round"/>
<path d="M47.5,392.4 C48.12,390.2 50,384.18 51.2,379.2 C52.4,374.22 53.62,367.78 54.7,362.5 C55.78,357.22 56.72,351.83 57.7,347.5 C58.68,343.17 59.63,339.5 60.6,336.5 C61.57,333.5 62.43,331.45 63.5,329.5 C64.57,327.55 65.83,326.28 67,324.8 C68.17,323.32 69.33,321.48 70.5,320.6 C71.67,319.72 72.83,319.62 74,319.5 C75.17,319.38 76.33,319.77 77.5,319.9 C78.67,320.03 77.92,320.22 81,320.3 C84.08,320.38 86.53,320.37 96,320.4 C105.47,320.43 130.83,320.48 137.8,320.5" fill="none" stroke="#f98c1a" stroke-width="1.3" stroke-linejoin="round" stroke-linecap="round"/>
<text x="50.5" y="314.5" font-size="6.9" fill="#f98c1a" stroke="#f98c1a" stroke-width="0.16"><tspan>HGFA</tspan><tspan font-size="5.11" dy="-2.69">HC</tspan><tspan dy="2.69">FXII</tspan><tspan font-size="5.11" dy="-2.69">LC</tspan></text>
<text x="108.1" y="315.2" font-size="6.9" fill="#3aae4a" stroke="#3aae4a" stroke-width="0.16">KNG</text>
<text x="84.8" y="346.2" font-size="7.2" fill="#bdbdbd" stroke="#bdbdbd" stroke-width="0.16" text-anchor="middle" transform="rotate(-47 84.8 343.8)">EGF2</text>
<text x="100.8" y="344.6" font-size="8.0" fill="#1d7657" stroke="#1d7657" stroke-width="0.16" text-anchor="middle" transform="rotate(-41 100.8 341.9)">PRR</text>
<text x="97.9" y="362.3" font-size="6.9" fill="#145090" stroke="#145090" stroke-width="0.16">FXII</text>
<text x="103.4" y="388.6" font-size="6.9" fill="#4b5e7a" stroke="#4b5e7a" stroke-width="0.16">No FXII</text>
<text x="188.6" y="302.6" font-size="11.3" fill="#000" font-weight="bold" stroke="#000" stroke-width="0.35">H</text>
<path d="M228.3,309.1 V401.2 M228.3,398.2 H321.7" stroke="#2b2b2b" stroke-width="1.05" fill="none"/>
<path d="M225.3,397.8 H228.3 M225.3,381.92 H228.3 M225.3,366.04 H228.3 M225.3,350.16 H228.3 M225.3,334.28 H228.3 M225.3,318.4 H228.3 M228.3,398.2 V401.2 M256.63,398.2 V401.2 M284.97,398.2 V401.2 M313.3,398.2 V401.2 " stroke="#2b2b2b" stroke-width="1" fill="none"/>
<text x="222.5" y="400.55" font-size="7.9" fill="#231f20" text-anchor="end" stroke="#231f20" stroke-width="0.22">0</text>
<text x="222.5" y="384.67" font-size="7.9" fill="#231f20" text-anchor="end" stroke="#231f20" stroke-width="0.22">20</text>
<text x="222.5" y="368.79" font-size="7.9" fill="#231f20" text-anchor="end" stroke="#231f20" stroke-width="0.22">40</text>
<text x="222.5" y="352.91" font-size="7.9" fill="#231f20" text-anchor="end" stroke="#231f20" stroke-width="0.22">60</text>
<text x="222.5" y="337.03" font-size="7.9" fill="#231f20" text-anchor="end" stroke="#231f20" stroke-width="0.22">80</text>
<text x="222.5" y="321.15" font-size="7.9" fill="#231f20" text-anchor="end" stroke="#231f20" stroke-width="0.22">100</text>
<text x="228.3" y="409.7" font-size="7.9" fill="#231f20" text-anchor="middle" stroke="#231f20" stroke-width="0.22">0</text>
<text x="256.63" y="409.7" font-size="7.9" fill="#231f20" text-anchor="middle" stroke="#231f20" stroke-width="0.22">20</text>
<text x="284.97" y="409.7" font-size="7.9" fill="#231f20" text-anchor="middle" stroke="#231f20" stroke-width="0.22">40</text>
<text x="313.3" y="409.7" font-size="7.9" fill="#231f20" text-anchor="middle" stroke="#231f20" stroke-width="0.22">60</text>
<text x="199.8" y="356.57" font-size="8.8" fill="#231f20" text-anchor="middle" textLength="29.8" lengthAdjust="spacingAndGlyphs" transform="rotate(-90 199.8 353.4)" font-weight="bold" stroke="#231f20" stroke-width="0.05">FXIIa (nM)</text>
<text x="274.7" y="422.4" font-size="8.8" fill="#231f20" text-anchor="middle" textLength="30.8" lengthAdjust="spacingAndGlyphs" stroke="#231f20" stroke-width="0.38">Time (min)</text>
<path d="M228.3,397.8 L235.38,395.74 L242.47,394.23 L270.8,388.59 L313.3,384.22" fill="none" stroke="#145090" stroke-width="1.2" stroke-linejoin="round" stroke-linecap="round"/>
<circle cx="228.3" cy="397.8" r="2.1" fill="#145090" stroke="#145090" stroke-width="0.8"/>
<circle cx="235.38" cy="395.74" r="2.1" fill="#145090" stroke="#145090" stroke-width="0.8"/>
<circle cx="242.47" cy="394.23" r="2.1" fill="#145090" stroke="#145090" stroke-width="0.8"/>
<circle cx="270.8" cy="388.59" r="2.1" fill="#145090" stroke="#145090" stroke-width="0.8"/>
<circle cx="313.3" cy="384.22" r="2.1" fill="#145090" stroke="#145090" stroke-width="0.8"/>
<path d="M228.3,397.8 L235.38,370.8 L242.47,359.21 L270.8,334.44 L313.3,322.37" fill="none" stroke="#f98c1a" stroke-width="1.4" stroke-linejoin="round" stroke-linecap="round"/>
<path d="M270.8,328.2 V341.5 M268.2,328.2 H273.4 M268.2,341.5 H273.4" stroke="#f98c1a" stroke-width="0.9" fill="none"/>
<path d="M313.3,316.1 V328.9 M310.7,316.1 H315.9 M310.7,328.9 H315.9" stroke="#f98c1a" stroke-width="0.9" fill="none"/>
<rect x="226" y="395.5" width="4.6" height="4.6" fill="#f98c1a"/>
<rect x="233.08" y="368.5" width="4.6" height="4.6" fill="#f98c1a"/>
<rect x="240.17" y="356.91" width="4.6" height="4.6" fill="#f98c1a"/>
<rect x="268.5" y="332.14" width="4.6" height="4.6" fill="#f98c1a"/>
<rect x="311" y="320.07" width="4.6" height="4.6" fill="#f98c1a"/>
<path d="M228.3,397.8 L235.38,383.11 L242.47,371.28 L270.8,353.34 L313.3,337.46" fill="none" stroke="#6a3590" stroke-width="1.4" stroke-linejoin="round" stroke-linecap="round"/>
<path d="M235.38,376.9 V388 M232.78,376.9 H237.98 M232.78,388 H237.98" stroke="#6a3590" stroke-width="0.9" fill="none"/>
<path d="M242.47,365.5 V373.5 M239.87,365.5 H245.07 M239.87,373.5 H245.07" stroke="#6a3590" stroke-width="0.9" fill="none"/>
<path d="M313.3,331.1 V343 M310.7,331.1 H315.9 M310.7,343 H315.9" stroke="#6a3590" stroke-width="0.9" fill="none"/>
<path d="M228.3,394.88 L231,399.74 L225.6,399.74 Z" fill="#6a3590"/>
<path d="M235.38,380.19 L238.08,385.06 L232.68,385.06 Z" fill="#6a3590"/>
<path d="M242.47,368.36 L245.17,373.22 L239.77,373.22 Z" fill="#6a3590"/>
<path d="M270.8,350.42 L273.5,355.28 L268.1,355.28 Z" fill="#6a3590"/>
<path d="M313.3,334.54 L316,339.4 L310.6,339.4 Z" fill="#6a3590"/>
<path d="M228.3,397.8 L235.38,386.92 L242.47,382.87 L270.8,375.73 L313.3,369.77" fill="none" stroke="#5e3a1b" stroke-width="1.4" stroke-linejoin="round" stroke-linecap="round"/>
<path d="M313.3,364.3 V372.5 M310.7,364.3 H315.9 M310.7,372.5 H315.9" stroke="#5e3a1b" stroke-width="0.9" fill="none"/>
<rect x="226" y="395.5" width="4.6" height="4.6" fill="#5e3a1b"/>
<rect x="233.08" y="384.62" width="4.6" height="4.6" fill="#5e3a1b"/>
<rect x="240.17" y="380.57" width="4.6" height="4.6" fill="#5e3a1b"/>
<rect x="268.5" y="373.43" width="4.6" height="4.6" fill="#5e3a1b"/>
<rect x="311" y="367.47" width="4.6" height="4.6" fill="#5e3a1b"/>
<path d="M228.3,397.8 L235.38,390.81 L242.47,383.51 L270.8,377.95 L313.3,375.57" fill="none" stroke="#e6168a" stroke-width="1.4" stroke-linejoin="round" stroke-linecap="round"/>
<path d="M228.3,394.7 L231.4,397.8 L228.3,400.9 L225.2,397.8 Z" fill="#e6168a"/>
<path d="M235.38,387.71 L238.48,390.81 L235.38,393.91 L232.28,390.81 Z" fill="#e6168a"/>
<path d="M242.47,380.41 L245.57,383.51 L242.47,386.61 L239.37,383.51 Z" fill="#e6168a"/>
<path d="M270.8,374.85 L273.9,377.95 L270.8,381.05 L267.7,377.95 Z" fill="#e6168a"/>
<path d="M313.3,372.47 L316.4,375.57 L313.3,378.67 L310.2,375.57 Z" fill="#e6168a"/>
<rect x="226" y="395.5" width="4.6" height="4.6" fill="#5e3a1b"/>
<text x="246.5" y="322.7" font-size="6.9" fill="#f98c1a" stroke="#f98c1a" stroke-width="0.16"><tspan>HGFA</tspan><tspan font-size="5.11" dy="-2.69">HC</tspan><tspan dy="2.69">FXII</tspan><tspan font-size="5.11" dy="-2.69">LC</tspan></text>
<text x="289.2" y="338.2" font-size="6.9" fill="#6a3590" stroke="#6a3590" stroke-width="0.16">FN2</text>
<text x="285.8" y="369.2" font-size="6.9" fill="#5e3a1b" stroke="#5e3a1b" stroke-width="0.16">EGF1</text>
<text x="289.2" y="384" font-size="6.9" fill="#e6168a" stroke="#e6168a" stroke-width="0.16">FN1</text>
<text x="289.2" y="395.3" font-size="6.9" fill="#145090" stroke="#145090" stroke-width="0.16">FXII</text>
<text x="378.2" y="302.6" font-size="11.3" fill="#000" font-weight="bold" stroke="#000" stroke-width="0.35">I</text>
<path d="M417.4,309.1 V401.2 M417.4,398.2 H512.7" stroke="#2b2b2b" stroke-width="1.05" fill="none"/>
<path d="M414.4,397.8 H417.4 M414.4,381.92 H417.4 M414.4,366.04 H417.4 M414.4,350.16 H417.4 M414.4,334.28 H417.4 M414.4,318.4 H417.4 M417.4,398.2 V401.2 M445.53,398.2 V401.2 M473.67,398.2 V401.2 M501.8,398.2 V401.2 " stroke="#2b2b2b" stroke-width="1" fill="none"/>
<text x="411.6" y="400.55" font-size="7.9" fill="#231f20" text-anchor="end" stroke="#231f20" stroke-width="0.22">0</text>
<text x="411.6" y="384.67" font-size="7.9" fill="#231f20" text-anchor="end" stroke="#231f20" stroke-width="0.22">20</text>
<text x="411.6" y="368.79" font-size="7.9" fill="#231f20" text-anchor="end" stroke="#231f20" stroke-width="0.22">40</text>
<text x="411.6" y="352.91" font-size="7.9" fill="#231f20" text-anchor="end" stroke="#231f20" stroke-width="0.22">60</text>
<text x="411.6" y="337.03" font-size="7.9" fill="#231f20" text-anchor="end" stroke="#231f20" stroke-width="0.22">80</text>
<text x="411.6" y="321.15" font-size="7.9" fill="#231f20" text-anchor="end" stroke="#231f20" stroke-width="0.22">100</text>
<text x="417.4" y="409.7" font-size="7.9" fill="#231f20" text-anchor="middle" stroke="#231f20" stroke-width="0.22">0</text>
<text x="445.53" y="409.7" font-size="7.9" fill="#231f20" text-anchor="middle" stroke="#231f20" stroke-width="0.22">20</text>
<text x="473.67" y="409.7" font-size="7.9" fill="#231f20" text-anchor="middle" stroke="#231f20" stroke-width="0.22">40</text>
<text x="501.8" y="409.7" font-size="7.9" fill="#231f20" text-anchor="middle" stroke="#231f20" stroke-width="0.22">60</text>
<text x="388.9" y="361.77" font-size="8.8" fill="#231f20" text-anchor="middle" textLength="30.2" lengthAdjust="spacingAndGlyphs" transform="rotate(-90 388.9 358.6)" font-weight="bold" stroke="#231f20" stroke-width="0.05">FXIIa (nM)</text>
<text x="464.7" y="422.4" font-size="8.8" fill="#231f20" text-anchor="middle" textLength="30.8" lengthAdjust="spacingAndGlyphs" stroke="#231f20" stroke-width="0.38">Time (min)</text>
<path d="M417.4,397.8 L424.43,370.8 L431.47,359.21 L459.6,334.28 L501.8,322.77" fill="none" stroke="#f98c1a" stroke-width="1.4" stroke-linejoin="round" stroke-linecap="round"/>
<path d="M431.47,357.5 V361 M428.87,357.5 H434.07 M428.87,361 H434.07" stroke="#f98c1a" stroke-width="0.9" fill="none"/>
<path d="M459.6,328.2 V341.5 M457,328.2 H462.2 M457,341.5 H462.2" stroke="#f98c1a" stroke-width="0.9" fill="none"/>
<path d="M501.8,316.1 V328.9 M499.2,316.1 H504.4 M499.2,328.9 H504.4" stroke="#f98c1a" stroke-width="0.9" fill="none"/>
<rect x="415.1" y="395.5" width="4.6" height="4.6" fill="#f98c1a"/>
<rect x="422.13" y="368.5" width="4.6" height="4.6" fill="#f98c1a"/>
<rect x="429.17" y="356.91" width="4.6" height="4.6" fill="#f98c1a"/>
<rect x="457.3" y="331.98" width="4.6" height="4.6" fill="#f98c1a"/>
<rect x="499.5" y="320.47" width="4.6" height="4.6" fill="#f98c1a"/>
<path d="M417.4,397.8 L424.43,377.95 L431.47,364.45 L459.6,350.16 L501.8,334.28" fill="none" stroke="#3aae4a" stroke-width="1.4" stroke-linejoin="round" stroke-linecap="round"/>
<path d="M431.47,358.1 V369.2 M428.87,358.1 H434.07 M428.87,369.2 H434.07" stroke="#3aae4a" stroke-width="0.9" fill="none"/>
<path d="M459.6,345.5 V354.8 M457,345.5 H462.2 M457,354.8 H462.2" stroke="#3aae4a" stroke-width="0.9" fill="none"/>
<path d="M501.8,322.3 V345.5 M499.2,322.3 H504.4 M499.2,345.5 H504.4" stroke="#3aae4a" stroke-width="0.9" fill="none"/>
<circle cx="417.4" cy="397.8" r="2.1" fill="#3aae4a" stroke="#3aae4a" stroke-width="0.8"/>
<circle cx="424.43" cy="377.95" r="2.1" fill="#3aae4a" stroke="#3aae4a" stroke-width="0.8"/>
<circle cx="431.47" cy="364.45" r="2.1" fill="#3aae4a" stroke="#3aae4a" stroke-width="0.8"/>
<circle cx="459.6" cy="350.16" r="2.1" fill="#3aae4a" stroke="#3aae4a" stroke-width="0.8"/>
<circle cx="501.8" cy="334.28" r="2.1" fill="#3aae4a" stroke="#3aae4a" stroke-width="0.8"/>
<path d="M417.4,397.8 L424.43,388.27 L431.47,381.44 L459.6,375.89 L501.8,364.45" fill="none" stroke="#bdbdbd" stroke-width="1.3" stroke-linejoin="round" stroke-linecap="round"/>
<path d="M459.6,371.5 V379.5 M457,371.5 H462.2 M457,379.5 H462.2" stroke="#bdbdbd" stroke-width="0.9" fill="none"/>
<path d="M501.8,359.9 V369.2 M499.2,359.9 H504.4 M499.2,369.2 H504.4" stroke="#bdbdbd" stroke-width="0.9" fill="none"/>
<path d="M417.4,394.7 L420.5,397.8 L417.4,400.9 L414.3,397.8 Z" fill="#bdbdbd"/>
<path d="M424.43,385.17 L427.53,388.27 L424.43,391.37 L421.33,388.27 Z" fill="#bdbdbd"/>
<path d="M431.47,378.34 L434.57,381.44 L431.47,384.54 L428.37,381.44 Z" fill="#bdbdbd"/>
<path d="M459.6,372.79 L462.7,375.89 L459.6,378.99 L456.5,375.89 Z" fill="#bdbdbd"/>
<path d="M501.8,361.35 L504.9,364.45 L501.8,367.55 L498.7,364.45 Z" fill="#bdbdbd"/>
<path d="M417.4,397.8 L424.43,395.34 L431.47,394.23 L459.6,389.07 L501.8,384.62" fill="none" stroke="#145090" stroke-width="1.2" stroke-linejoin="round" stroke-linecap="round"/>
<circle cx="417.4" cy="397.8" r="2.1" fill="#145090" stroke="#145090" stroke-width="0.8"/>
<circle cx="424.43" cy="395.34" r="2.1" fill="#145090" stroke="#145090" stroke-width="0.8"/>
<circle cx="431.47" cy="394.23" r="2.1" fill="#145090" stroke="#145090" stroke-width="0.8"/>
<circle cx="459.6" cy="389.07" r="2.1" fill="#145090" stroke="#145090" stroke-width="0.8"/>
<circle cx="501.8" cy="384.62" r="2.1" fill="#145090" stroke="#145090" stroke-width="0.8"/>
<path d="M417.4,397.8 L424.43,390.18 L431.47,387.32 L459.6,382.87 L501.8,377.63" fill="none" stroke="#1d7657" stroke-width="1.4" stroke-linejoin="round" stroke-linecap="round"/>
<path d="M501.8,373.1 V381.3 M499.2,373.1 H504.4 M499.2,381.3 H504.4" stroke="#1d7657" stroke-width="0.9" fill="none"/>
<path d="M417.4,401.15 L420.5,395.57 L414.3,395.57 Z" fill="#1d7657"/>
<path d="M424.43,393.53 L427.53,387.95 L421.33,387.95 Z" fill="#1d7657"/>
<path d="M431.47,390.67 L434.57,385.09 L428.37,385.09 Z" fill="#1d7657"/>
<path d="M459.6,386.22 L462.7,380.64 L456.5,380.64 Z" fill="#1d7657"/>
<path d="M501.8,380.98 L504.9,375.4 L498.7,375.4 Z" fill="#1d7657"/>
<text x="436" y="323.1" font-size="6.9" fill="#f98c1a" stroke="#f98c1a" stroke-width="0.16"><tspan>HGFA</tspan><tspan font-size="5.11" dy="-2.69">HC</tspan><tspan dy="2.69">FXII</tspan><tspan font-size="5.11" dy="-2.69">LC</tspan></text>
<text x="469.2" y="340" font-size="6.9" fill="#3aae4a" stroke="#3aae4a" stroke-width="0.16">KNG</text>
<text x="465.9" y="367.1" font-size="6.9" fill="#bdbdbd" stroke="#bdbdbd" stroke-width="0.16">EGF2</text>
<text x="478" y="377.8" font-size="7.1" fill="#1d7657" stroke="#1d7657" stroke-width="0.16">PRR</text>
<text x="478" y="395.3" font-size="6.9" fill="#145090" stroke="#145090" stroke-width="0.16">FXII</text>
</svg>
</body></html>
